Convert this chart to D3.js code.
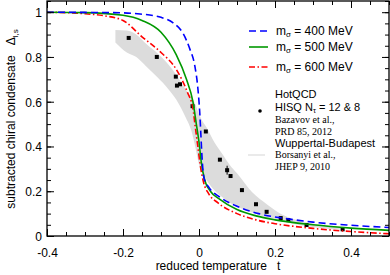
<!DOCTYPE html>
<html>
<head>
<meta charset="utf-8">
<script src="https://cdn.jsdelivr.net/npm/d3@7"></script>
<style>
  body { margin: 0; background: #fff; }
  text { font-family: "Liberation Sans", Arial, sans-serif; }
  .serif { font-family: "Liberation Serif", "Times New Roman", serif; }
</style>
</head>
<body>
<div id="chart"></div>
<script>
  // model curves (sigma mass 400 / 500 / 600 MeV)
  var t400 = [-0.4, -0.3, -0.2, -0.155, -0.1, -0.068, -0.042, -0.024, -0.011, -0.003, 0.002, 0.005, 0.008, 0.013, 0.027, 0.054, 0.097, 0.157, 0.228, 0.3, 0.4, 0.5];
  var y400 = [1.0, 0.999, 0.997, 0.992, 0.977, 0.952, 0.905, 0.835, 0.76, 0.66, 0.55, 0.45, 0.35, 0.26, 0.215, 0.175, 0.135, 0.1, 0.078, 0.062, 0.048, 0.038];
  var t500 = [-0.4, -0.3, -0.2, -0.15, -0.1, -0.06, -0.033, -0.016, -0.007, 0, 0.006, 0.015, 0.03, 0.054, 0.1, 0.15, 0.2, 0.3, 0.4, 0.5];
  var y500 = [1.0, 0.998, 0.986, 0.963, 0.91, 0.81, 0.7, 0.6, 0.5, 0.42, 0.33, 0.25, 0.2, 0.165, 0.118, 0.09, 0.072, 0.05, 0.035, 0.025];
  var t600 = [-0.4, -0.3, -0.25, -0.2, -0.15, -0.1, -0.06, -0.03, -0.016, -0.01, -0.003, 0.003, 0.012, 0.025, 0.05, 0.1, 0.15, 0.2, 0.3, 0.4, 0.5];
  var y600 = [1.0, 0.993, 0.984, 0.963, 0.89, 0.82, 0.745, 0.64, 0.57, 0.49, 0.4, 0.32, 0.24, 0.19, 0.148, 0.1, 0.072, 0.055, 0.034, 0.02, 0.01];

  // HotQCD HISQ points
  var ptT = [-0.185, -0.111, -0.061, -0.058, -0.050, -0.017, 0.018, 0.055, 0.074, 0.083, 0.113, 0.150, 0.178, 0.215, 0.235, 0.283, 0.378];
  var ptY = [0.885, 0.80, 0.712, 0.672, 0.678, 0.58, 0.467, 0.341, 0.294, 0.268, 0.205, 0.142, 0.108, 0.08, 0.071, 0.049, 0.03];
  var ptErr = [0, 0, 0, 0, 0, 0, 0, 0, 0.02, 0, 0, 0, 0, 0, 0, 0, 0];

  // Wuppertal-Budapest band
  var bandT = [-0.22, -0.19, -0.165, -0.14, -0.11, -0.08, -0.06, -0.035, -0.02, -0.01, 0, 0.01, 0.02, 0.04, 0.06, 0.08, 0.1, 0.14, 0.18, 0.22, 0.26, 0.3, 0.35, 0.38];
  var bandHi = [0.92, 0.918, 0.9, 0.86, 0.818, 0.765, 0.72, 0.655, 0.62, 0.59, 0.545, 0.51, 0.485, 0.42, 0.37, 0.32, 0.28, 0.195, 0.14, 0.095, 0.07, 0.055, 0.045, 0.038];
  var bandLo = [0.865, 0.82, 0.8, 0.76, 0.71, 0.655, 0.61, 0.53, 0.47, 0.40, 0.32, 0.28, 0.25, 0.205, 0.175, 0.15, 0.132, 0.105, 0.082, 0.066, 0.05, 0.04, 0.03, 0.028];

  var xTicks = [-0.4, -0.2, 0, 0.2, 0.4];
  var yTicks = [0, 0.2, 0.4, 0.6, 0.8, 1];

  var margin = {top: 1, right: 1, bottom: 39, left: 47};
  var W = 390, H = 275;
  var width = W - margin.left - margin.right,
      height = H - margin.top - margin.bottom;

  var svg = d3.select("#chart").append("svg")
      .attr("width", W)
      .attr("height", H);

  var g = svg.append("g")
      .attr("transform", `translate(${margin.left}, ${margin.top})`);

  var x = d3.scaleLinear().domain([-0.4, 0.5]).range([0, width]);
  var y = d3.scaleLinear().domain([0, 1.05]).range([height, 0]);

  var defs = svg.append("defs");
  defs.append("clipPath").attr("id", "clip")
    .append("rect").attr("width", width).attr("height", height);

  var plot = g.append("g").attr("clip-path", "url(#clip)");

  // band
  var band = bandT.map(function(t, i) { return {t: t, hi: bandHi[i], lo: bandLo[i]}; });
  plot.append("path")
    .datum(band)
    .attr("fill", "#dcdcdc")
    .attr("d", d3.area()
      .x(d => x(d.t))
      .y0(d => y(d.lo))
      .y1(d => y(d.hi))
      .curve(d3.curveMonotoneX));

  // points
  var pts = ptT.map(function(t, i) { return {t: t, y: ptY[i], e: ptErr[i]}; });
  plot.selectAll(".err")
    .data(pts.filter(d => d.e > 0))
    .enter().append("line")
    .attr("x1", d => x(d.t)).attr("x2", d => x(d.t))
    .attr("y1", d => y(d.y - d.e)).attr("y2", d => y(d.y + d.e))
    .attr("stroke", "#000").attr("stroke-width", 1);
  plot.selectAll(".pt")
    .data(pts)
    .enter().append("rect")
    .attr("x", d => x(d.t) - 2)
    .attr("y", d => y(d.y) - 2)
    .attr("width", 4).attr("height", 4)
    .attr("fill", "#000");

  // model lines
  var series = [
    {t: t600, v: y600, color: "#ff0000", dash: "6,2.5,1.5,2.5"},
    {t: t500, v: y500, color: "#009900", dash: null},
    {t: t400, v: y400, color: "#0000ff", dash: "7,4"}
  ];
  var line = d3.line()
    .x(d => x(d[0]))
    .y(d => y(d[1]))
    .curve(d3.curveMonotoneX);
  series.forEach(function(s) {
    plot.append("path")
      .datum(s.t.map((t, i) => [t, s.v[i]]))
      .attr("fill", "none")
      .attr("stroke", s.color)
      .attr("stroke-width", 1.6)
      .attr("stroke-dasharray", s.dash)
      .attr("d", line);
  });

  // axes: ticks inside on all four sides
  var xMinor = d3.range(-0.4, 0.501, 0.05).map(v => +v.toFixed(2));
  var yMinor = d3.range(0, 1.051, 0.05).map(v => +v.toFixed(2));

  function axisX(gen, yPos, dir, labels) {
    var a = g.append("g").attr("transform", `translate(0, ${yPos})`);
    a.call(gen(x).tickValues(xMinor).tickSize(4 * dir).tickFormat(""));
    var b = g.append("g").attr("transform", `translate(0, ${yPos})`);
    b.call(gen(x).tickValues(xTicks).tickSize(7 * dir)
      .tickFormat(labels ? d3.format("") : ""));
    [a, b].forEach(function(s) {
      s.select(".domain").remove();
      s.selectAll("line").attr("stroke", "#000");
    });
    if (labels) {
      b.selectAll("text")
        .attr("y", 12).attr("dy", "0.71em")
        .attr("font-size", "12px").attr("fill", "#000")
        .text(d => d === 0 ? "0" : d3.format(".1f")(d).replace("−", "-"));
    }
  }
  function axisY(gen, xPos, dir, labels) {
    var a = g.append("g").attr("transform", `translate(${xPos}, 0)`);
    a.call(gen(y).tickValues(yMinor).tickSize(4 * dir).tickFormat(""));
    var b = g.append("g").attr("transform", `translate(${xPos}, 0)`);
    b.call(gen(y).tickValues(yTicks).tickSize(7 * dir).tickFormat(""));
    [a, b].forEach(function(s) {
      s.select(".domain").remove();
      s.selectAll("line").attr("stroke", "#000");
    });
    if (labels) {
      b.selectAll(".tick").append("text")
        .attr("x", -5).attr("dy", "0.36em")
        .attr("text-anchor", "end")
        .attr("font-size", "12px").attr("fill", "#000")
        .text(d => d === 0 || d === 1 ? d : d3.format(".1f")(d));
    }
  }
  axisX(d3.axisBottom, height, -1, true);
  axisX(d3.axisTop, 0, -1, false);
  axisY(d3.axisLeft, 0, -1, true);
  axisY(d3.axisRight, width, -1, false);

  g.append("rect")
    .attr("width", width).attr("height", height)
    .attr("fill", "none").attr("stroke", "#000").attr("stroke-width", 1.3);

  // axis titles
  var xLabel = svg.append("text")
    .attr("x", 218).attr("y", 270)
    .attr("text-anchor", "middle")
    .attr("font-size", "12px")
    .attr("xml:space", "preserve")
    .text("reduced temperature   t");

  var yLabel = svg.append("text")
    .attr("transform", "translate(15, 119) rotate(-90)")
    .attr("text-anchor", "middle")
    .attr("font-size", "12px")
    .attr("xml:space", "preserve");
  yLabel.append("tspan").text("subtracted chiral condensate   \u0394");
  yLabel.append("tspan").attr("font-size", "8px").attr("dy", 3).text("l,s");

  // legend
  var leg = svg.append("g");
  var legItems = [
    {label: "400 MeV", color: "#0000ff", dash: "7,4", y: 31},
    {label: "500 MeV", color: "#009900", dash: null, y: 47},
    {label: "600 MeV", color: "#ff0000", dash: "6,2.5,1.5,2.5", y: 67}
  ];
  legItems.forEach(function(d) {
    leg.append("line")
      .attr("x1", 249).attr("x2", 268)
      .attr("y1", d.y).attr("y2", d.y)
      .attr("stroke", d.color).attr("stroke-width", 1.6)
      .attr("stroke-dasharray", d.dash);
    var tx = leg.append("text").attr("x", 276).attr("y", d.y + 4)
      .attr("font-size", "12px");
    tx.append("tspan").text("m");
    tx.append("tspan").attr("font-size", "8px").attr("dy", 2).text("\u03c3");
    tx.append("tspan").attr("dy", -2).text(" = " + d.label);
  });

  leg.append("circle").attr("cx", 260).attr("cy", 111).attr("r", 1.8).attr("fill", "#000");
  leg.append("text").attr("x", 275).attr("y", 98).attr("font-size", "11px").text("HotQCD");
  var hisq = leg.append("text").attr("x", 275).attr("y", 111).attr("font-size", "11px");
  hisq.append("tspan").text("HISQ N");
  hisq.append("tspan").attr("font-size", "7.5px").attr("dy", 2).text("\u03c4");
  hisq.append("tspan").attr("dy", -2).text(" = 12 & 8");
  leg.append("text").attr("class", "serif").attr("x", 275).attr("y", 123).attr("font-size", "10px").text("Bazavov et al.,");
  leg.append("text").attr("class", "serif").attr("x", 275).attr("y", 134.5).attr("font-size", "10px").text("PRD 85, 2012");

  leg.append("line").attr("x1", 248).attr("x2", 265).attr("y1", 155).attr("y2", 155)
    .attr("stroke", "#dcdcdc").attr("stroke-width", 1.2);
  leg.append("text").attr("x", 275).attr("y", 146.5).attr("font-size", "11px").text("Wuppertal-Budapest");
  leg.append("text").attr("class", "serif").attr("x", 275).attr("y", 158).attr("font-size", "10px").text("Borsanyi et al.,");
  leg.append("text").attr("class", "serif").attr("x", 275).attr("y", 170).attr("font-size", "10px").text("JHEP 9, 2010");
</script>
</body>
</html>
